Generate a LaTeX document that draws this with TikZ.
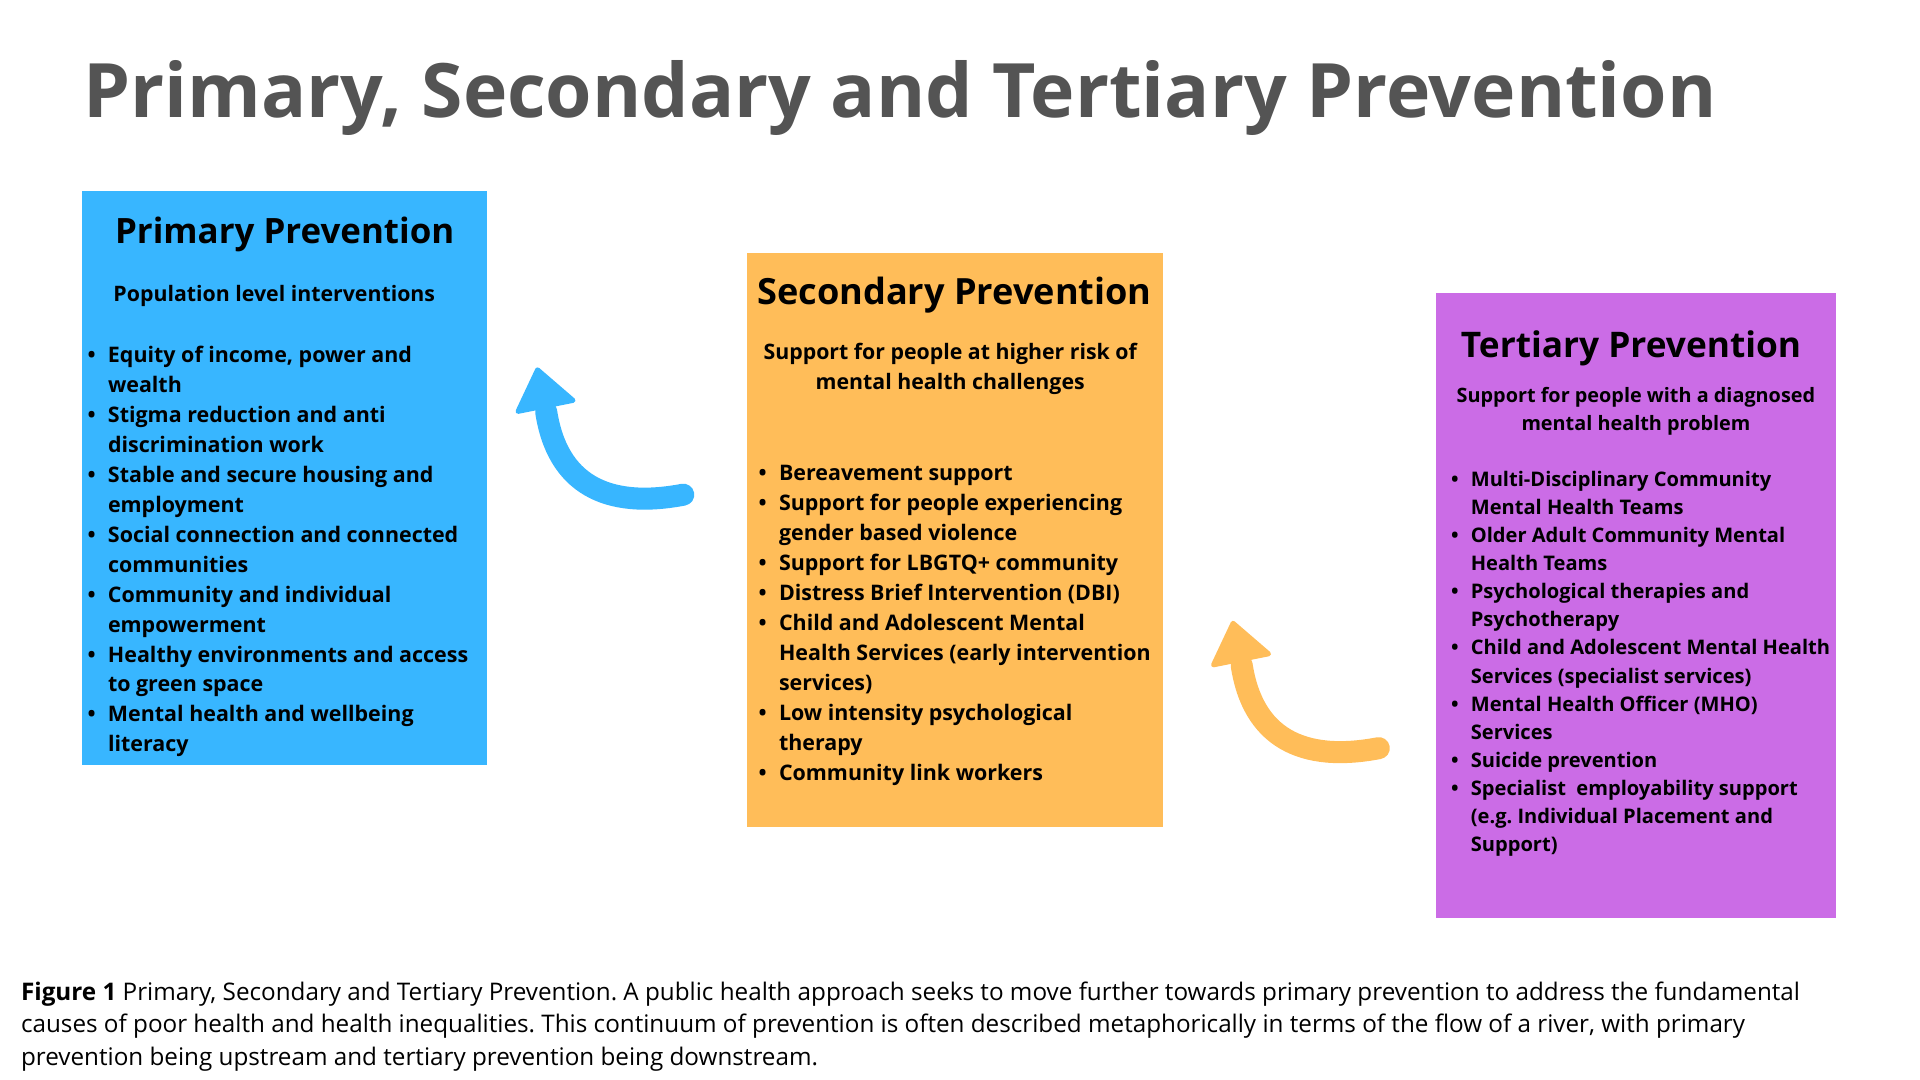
\documentclass[tikz,border=0pt]{standalone}
\usepackage{fontspec}
\setmainfont{Open Sans}
\usetikzlibrary{positioning}
\frenchspacing
\definecolor{primblue}{HTML}{38B6FF}
\definecolor{secorange}{HTML}{FFBD59}
\definecolor{terpurple}{HTML}{CB6CE6}
\definecolor{titlegray}{HTML}{545454}
\newcommand{\bul}{\llap{•\hspace{10pt}}}
\tikzset{
 box/.style={inner sep=0, outer sep=0, anchor=north west},
 boxhead/.style={font=\bfseries\fontsize{28.5}{34}\selectfont, inner sep=0, anchor=base},
 boxsub/.style={font=\bfseries\fontsize{17.4}{24.1}\selectfont, align=center, inner sep=0, anchor=base},
 items/.style={font=\bfseries\fontsize{17.5}{24.45}\selectfont, align=left, inner sep=0, anchor=base west},
 curl/.style={line width=18pt, line cap=round},
 curlhead/.style={line width=4pt, line join=round},
}
\begin{document}
\begin{tikzpicture}[x=1pt, y=-1pt]
\useasboundingbox (0,0) rectangle (1568,882);
\node[anchor=base west, inner sep=0, text=titlegray, font=\bfseries\fontsize{61.3}{72}\selectfont] (title) at (68,96) {Primary, Secondary and Tertiary Prevention};
% the three boxes
\node[box, fill=primblue, minimum width=331, minimum height=469] (primary) at (67,156) {};
\node[box, fill=secorange, minimum width=340, minimum height=468] (secondary) at (610,207) {};
\node[box, fill=terpurple, minimum width=326, minimum height=511] (tertiary) at (1173,239) {};
% primary (multi-line nodes sit on their last line)
\node[boxhead] (primhead) at (232.5,199) {Primary Prevention};
\node[boxsub] (primsub) at (224,246.5) {Population level interventions};
\node[items] (primlist) at (88,614) {\bul Equity of income, power and\\wealth\\
 \bul Stigma reduction and anti\\discrimination work\\
 \bul Stable and secure housing and\\employment\\
 \bul Social connection and connected\\communities\\
 \bul Community and individual\\empowerment\\
 \bul Healthy environments and access\\to green space\\
 \bul Mental health and wellbeing\\literacy};
% secondary
\node[boxhead, font=\bfseries\fontsize{29.5}{34}\selectfont] (sechead) at (779.5,248.5) {Secondary Prevention};
\node[boxsub] (secsub) at (776,318) {Support for people at higher risk of\\mental health challenges};
\node[items] (seclist) at (636,637) {\bul Bereavement support\\
 \bul Support for people experiencing\\gender based violence\\
 \bul Support for LBGTQ+ community\\
 \bul Distress Brief Intervention (DBI)\\
 \bul Child and Adolescent Mental\\Health Services (early intervention\\services)\\
 \bul Low intensity psychological\\therapy\\
 \bul Community link workers};
% tertiary
\node[boxhead, font=\bfseries\fontsize{28.8}{34}\selectfont] (terhead) at (1332,292) {Tertiary Prevention};
\node[boxsub, font=\bfseries\fontsize{16.2}{22.3}\selectfont] (tersub) at (1336,351.4) {Support for people with a diagnosed\\mental health problem};
\node[items, font=\bfseries\fontsize{16.4}{22.95}\selectfont] (terlist) at (1201,695.5) {\bul Multi-Disciplinary Community\\Mental Health Teams\\
 \bul Older Adult Community Mental\\Health Teams\\
 \bul Psychological therapies and\\Psychotherapy\\
 \bul Child and Adolescent Mental Health\\Services (specialist services)\\
 \bul Mental Health Officer (MHO)\\Services\\
 \bul Suicide prevention\\
 \bul Specialist\ \ employability support\\(e.g. Individual Placement and\\Support)};
% curved arrows
\draw[curl, primblue] (558,404) .. controls (495,416) and (455,395) .. (446,336);
\filldraw[curlhead, primblue] (439,302) -- (423,336) -- (468,327) -- cycle;
\begin{scope}[shift={(568,207)}]
\draw[curl, secorange] (558,404) .. controls (495,416) and (455,395) .. (446,336);
\filldraw[curlhead, secorange] (439,302) -- (423,336) -- (468,327) -- cycle;
\end{scope}
% caption
\node[anchor=base west, align=left, inner sep=0, font=\fontsize{19.8}{26.6}\selectfont] (caption) at (17,870) {\textbf{Figure 1} Primary, Secondary and Tertiary Prevention. A public health approach seeks to move further towards primary prevention to address the fundamental\\
causes of poor health and health inequalities. This continuum of prevention is often described metaphorically in terms of the flow of a river, with primary\\
prevention being upstream and tertiary prevention being downstream.};
\end{tikzpicture}
\end{document}
